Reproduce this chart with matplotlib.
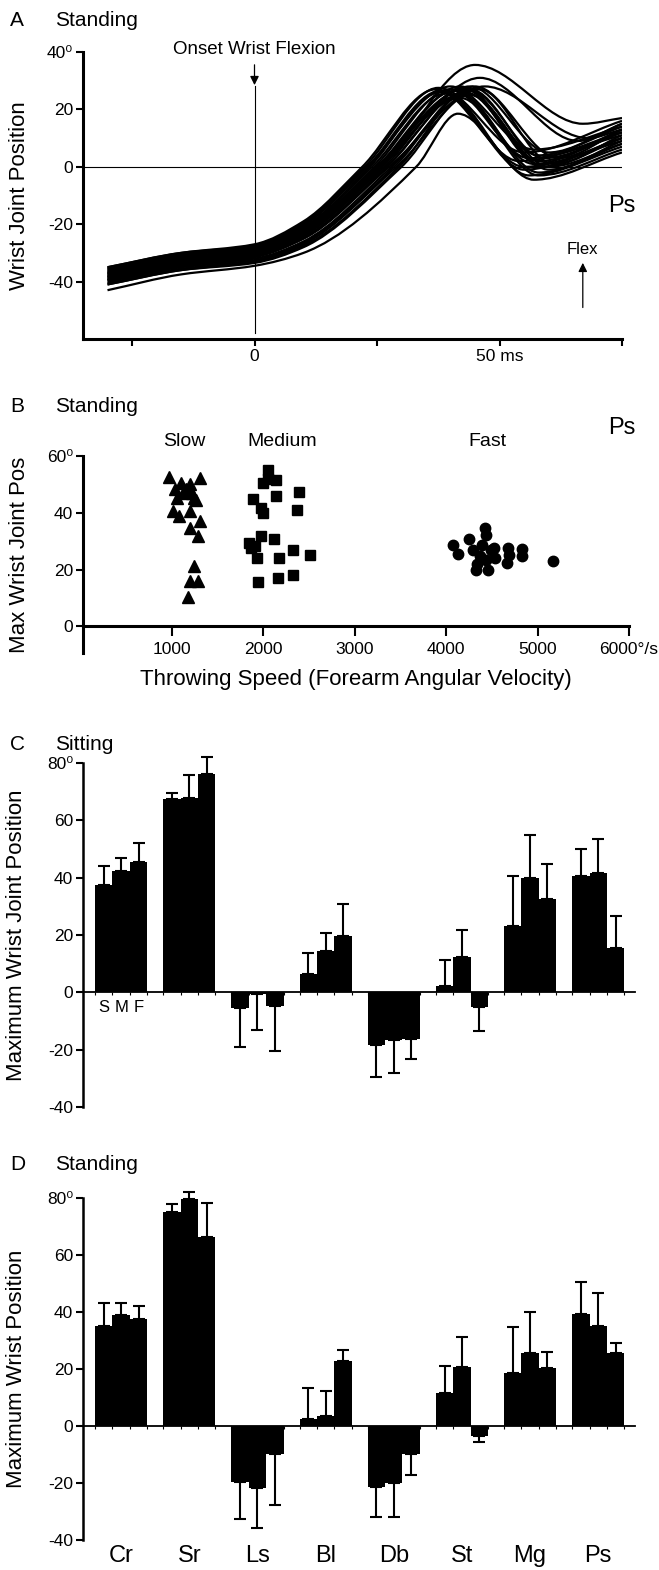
import numpy as np
import matplotlib
matplotlib.use('Agg')
import matplotlib.pyplot as plt
from matplotlib.path import Path
from matplotlib.patches import PathPatch

plt.rcParams['font.family'] = ['Liberation Sans', 'DejaVu Sans']

# ---- panel A : wrist trajectories (key points) ----
y_m30 = [-35, -35.5, -36, -36.5, -37, -37.5, -38, -38.5, -39, -39.5, -36.5, -37.5,
         -38.5, -39.5, -40.5, -41, -43, -35.5, -38, -40, -35, -39, -37, -41]
y_m15 = [-30, -30.5, -31, -31.5, -32, -32.5, -33, -33.5, -34, -34.5, -31.5, -32.5,
         -33.5, -34.5, -35.5, -36, -37.5, -30.5, -33, -35, -30, -34, -32, -36]
y_0 = [-27, -27.5, -28, -28.5, -29, -29.5, -30, -30.5, -31, -31.5, -29, -30,
       -31, -32, -33, -33.5, -34.5, -28, -30, -32.5, -27.5, -31, -29.5, -33]
y_10 = [-19, -20, -21, -21.5, -22, -22.5, -23, -23.5, -24, -25, -22, -23.5,
        -24.5, -26, -27, -28, -30, -20.5, -23, -26.5, -19.5, -25, -23, -27.5]
t_zero = [22, 23, 23.5, 24, 24.5, 25, 25.5, 26, 26.5, 27, 25, 26,
          27, 28, 29, 30, 33, 23, 25.5, 28.5, 22.5, 27.5, 25, 29.5]
t_peak = [37, 38, 38, 39, 40, 41, 42, 42, 43, 43, 44, 45,
          46, 45, 46, 44, 41.5, 40, 42, 44, 37.5, 47, 43, 44]
y_peak = [27, 26.5, 26, 25.5, 27, 26.5, 28, 25, 27.5, 26, 28, 35.5,
          31, 28, 27, 25, 18.5, 28, 24, 26.5, 27.5, 28, 27, 27]
t_dip = [54, 55, 55, 56, 56, 57, 58, 58, 58, 59, 60, 67,
         66, 62, 61, 60, 57, 57, 58, 59, 55, 68, 58, 60]
y_dip = [2, -1, 0, -3, 3, 1, 4, -2, 2, 0, 5, 15,
         9, 3, 1, -1, -4.5, 6, -3, 3, 5, 10, 1, 0]
y_75 = [12, 10, 9, 7, 11, 13, 14, 8, 12, 10, 15, 17,
        15, 13, 11, 9, 5, 14, 6, 12, 16, 13, 10, 8]

# ---- panel B : max wrist position vs throwing speed ----
slow_x = [963, 1309, 1101, 1194, 1032, 1147, 1055, 1240, 1263, 1009, 1078,
          1194, 1309, 1194, 1286, 1240, 1194, 1286, 1170, 1124, 1217]
slow_y = [52.7, 52.4, 50.6, 50, 48.2, 48.2, 45.3, 45.3, 44.5, 40.6, 38.8,
          40.6, 37.1, 34.7, 31.8, 21.4, 15.9, 15.9, 10.4, 47, 47]
med_x = [2046, 2046, 2138, 2000, 2138, 2392, 1885, 1977, 2000, 2364, 1977,
         2115, 1839, 1908, 1931, 2175, 2323, 2507, 1945, 2161, 2323, 1862]
med_y = [55, 51.8, 51.5, 50.6, 45.9, 47.4, 44.7, 41.8, 40, 40.9, 31.8,
         30.8, 29.4, 28.2, 24.1, 24.1, 26.8, 25, 15.5, 17, 18.2, 27.6]
fast_x = [4074, 4134, 4249, 4295, 4364, 4419, 4433, 4396, 4327, 4456, 4488,
          4534, 4525, 4673, 4687, 4664, 4834, 4834, 5171, 4341, 4433]
fast_y = [28.6, 25.6, 30.6, 27, 24.7, 34.7, 32.1, 28.8, 19.8, 20, 27,
          24.1, 27.6, 27.6, 25.3, 22.4, 27.3, 24.7, 22.9, 22, 23.5]

# ---- panels C and D : mean max wrist position per muscle (S, M, F) ----
muscles = ['Cr', 'Sr', 'Ls', 'Bl', 'Db', 'St', 'Mg', 'Ps']
sit_mean = [[37.5, 42.3, 45.6], [67.4, 67.9, 76.0], [-5.5, -0.5, -4.9], [6.4, 14.3, 19.6],
            [-18.3, -16.7, -16.3], [2.3, 12.2, -5.2], [23.0, 39.9, 32.4], [40.5, 41.7, 15.4]]
sit_sd = [[6.5, 4.7, 6.6], [2.3, 7.9, 6.0], [13.4, 12.6, 15.5], [7.2, 6.5, 11.1],
          [11.1, 11.6, 6.8], [9.0, 9.4, 8.4], [17.6, 14.9, 12.5], [9.6, 11.9, 11.4]]
std_mean = [[35.2, 38.9, 37.4], [75.2, 79.6, 66.2], [-19.5, -21.6, -9.9], [2.3, 3.6, 22.9],
            [-21.3, -19.9, -9.9], [11.5, 20.6, -3.4], [18.7, 25.5, 20.2], [39.4, 35.1, 25.5]]
std_sd = [[8.1, 4.4, 4.8], [2.6, 2.4, 12.2], [13.1, 14.1, 17.9], [10.9, 8.7, 3.9],
          [10.7, 12.1, 7.3], [9.7, 10.7, 2.1], [15.9, 14.6, 5.6], [11.0, 11.4, 3.7]]


def smooth_path(ts, ys):
    # monotone cubic through the key points, drawn as bezier segments
    ts = np.asarray(ts, float)
    ys = np.asarray(ys, float)
    h = np.diff(ts)
    d = np.diff(ys) / h
    m = np.zeros_like(ys)
    for k in range(1, len(ys) - 1):
        if d[k-1] * d[k] > 0:
            w1 = 2*h[k] + h[k-1]
            w2 = h[k] + 2*h[k-1]
            m[k] = (w1 + w2) / (w1/d[k-1] + w2/d[k])
    m[0] = d[0]
    m[-1] = d[-1]
    verts = [(ts[0], ys[0])]
    codes = [Path.MOVETO]
    for k in range(len(h)):
        verts += [(ts[k] + h[k]/3, ys[k] + m[k]*h[k]/3),
                  (ts[k+1] - h[k]/3, ys[k+1] - m[k+1]*h[k]/3),
                  (ts[k+1], ys[k+1])]
        codes += [Path.CURVE4]*3
    return Path(verts, codes)


def box(l, t, r, b):
    return [l/659, 1 - b/1570, (r - l)/659, (b - t)/1570]


fig = plt.figure(figsize=(6.59, 15.70), dpi=100)

TICK = 12.5
LAB = 16

# panel titles
for y, letter, title in [(20, 'A', 'Standing'), (407, 'B', 'Standing'),
                         (745, 'C', 'Sitting'), (1165, 'D', 'Standing')]:
    fig.text(10/659, 1 - y/1570, letter, fontsize=15, va='center')
    fig.text(55/659, 1 - y/1570, title, fontsize=15, va='center')

# ================= A =================
axA = fig.add_axes(box(83, 52, 622, 339))
for i in range(len(y_m30)):
    tk = [-30, -15, 0, 10, t_zero[i], t_peak[i], t_dip[i], 75]
    yk = [y_m30[i], y_m15[i], y_0[i], y_10[i], 0, y_peak[i], y_dip[i], y_75[i]]
    axA.add_patch(PathPatch(smooth_path(tk, yk), fill=False, ec='black', lw=1.6))
axA.axhline(0, color='black', lw=0.8)
axA.plot([0, 0], [-58, 28], color='black', lw=0.8)
axA.annotate('', xy=(0, 27.5), xytext=(0, 36.5),
             arrowprops=dict(arrowstyle='-|>', color='black', lw=0.9, mutation_scale=13))
axA.text(0, 41, 'Onset Wrist Flexion', ha='center', va='center', fontsize=13.5)
axA.text(75, -13.5, 'Ps', ha='center', va='center', fontsize=17)
axA.text(67, -28.8, 'Flex', ha='center', va='center', fontsize=12)
axA.annotate('', xy=(67, -32.5), xytext=(67, -50),
             arrowprops=dict(arrowstyle='-|>', color='black', lw=0.9, mutation_scale=13))
axA.set_xlim(-35, 75)
axA.set_ylim(-60, 40)
axA.set_xticks([-25, 0, 25, 50, 75])
axA.set_xticklabels(['', '0', '', '50 ms', ''])
axA.set_yticks([-40, -20, 0, 20, 40])
axA.set_yticklabels(['-40', '-20', '0', '20', '40\u2070'])
axA.set_ylabel('Wrist Joint Position', fontsize=LAB, va='center')
axA.yaxis.set_label_coords(-0.118, 0.5)

# ================= B =================
axB = fig.add_axes(box(83, 456, 629, 653))
axB.plot(slow_x, slow_y, '^', color='black', ms=9, ls='none')
axB.plot(med_x, med_y, 's', color='black', ms=7.5, ls='none')
axB.plot(fast_x, fast_y, 'o', color='black', ms=7.5, ls='none')
axB.text(1132, 65, 'Slow', ha='center', va='center', fontsize=14)
axB.text(2207, 65, 'Medium', ha='center', va='center', fontsize=14)
axB.text(4454, 65, 'Fast', ha='center', va='center', fontsize=14)
axB.text(5925, 70, 'Ps', ha='center', va='center', fontsize=17)
axB.set_xlim(25, 6000)
axB.set_ylim(-9.4, 60)
axB.spines['bottom'].set_position(('data', 0))
axB.set_xticks([1000, 2000, 3000, 4000, 5000, 6000])
axB.set_xticklabels(['1000', '2000', '3000', '4000', '5000', '6000\u00b0/s'])
axB.set_yticks([0, 20, 40, 60])
axB.set_yticklabels(['0', '20', '40', '60\u2070'])
axB.set_xlabel('Throwing Speed (Forearm Angular Velocity)', fontsize=LAB, labelpad=9)
axB.set_ylabel('Max Wrist Joint Pos', fontsize=LAB, va='center')
axB.yaxis.set_label_coords(-0.117, 0.5)

# ================= C / D =================
W = 0.255
offs = [-W, 0, W]


def bar_panel(ax, means, sds, ylabel):
    means = np.array(means)
    sds = np.array(sds)
    g = np.arange(len(muscles))
    for j in range(3):
        m = means[:, j]
        s = sds[:, j]
        lo = np.where(m < 0, s, 0)
        hi = np.where(m >= 0, s, 0)
        ax.bar(g + offs[j], m, width=W, color='black', edgecolor='none',
               yerr=[lo, hi], error_kw=dict(ecolor='black', elinewidth=1.5,
                                            capsize=4, capthick=1.5))
    for art in ax.get_children():
        art.set_clip_on(False)
    edges = np.concatenate([g + e for e in (-1.5*W, -0.5*W, 0.5*W, 1.5*W)])
    ax.set_xticks([])
    ax.set_xticks(edges, minor=True)
    ax.tick_params(axis='x', which='minor', length=2.5, width=0.8, direction='out')
    ax.set_xlim(-0.56, 7.54)
    ax.set_ylim(-40, 80)
    ax.spines['bottom'].set_position(('data', 0))
    ax.spines['bottom'].set_linewidth(1.3)
    ax.spines['left'].set_linewidth(1.8)
    ax.set_yticks([-40, -20, 0, 20, 40, 60, 80])
    ax.set_yticklabels(['-40', '-20', '0', '20', '40', '60', '80\u2070'])
    ax.set_ylabel(ylabel, fontsize=LAB, va='center')
    ax.yaxis.set_label_coords(-0.12, 0.5)


axC = fig.add_axes(box(83, 763, 635, 1107))
bar_panel(axC, sit_mean, sit_sd, 'Maximum Wrist Joint Position')
for j, s in enumerate(['S', 'M', 'F']):
    axC.text(offs[j], -5.2, s, ha='center', va='center', fontsize=12)

axD = fig.add_axes(box(83, 1198, 635, 1540))
bar_panel(axD, std_mean, std_sd, 'Maximum Wrist Position')
for i, name in enumerate(muscles):
    axD.text(i, -41.8, name, ha='center', va='top', fontsize=17, clip_on=False)

for ax in (axA, axB, axC, axD):
    ax.spines['top'].set_visible(False)
    ax.spines['right'].set_visible(False)
    ax.tick_params(axis='both', which='major', direction='out', length=5,
                   width=1.5, labelsize=TICK, pad=2)
for ax in (axA, axB):
    ax.spines['left'].set_linewidth(2.2)
    ax.spines['bottom'].set_linewidth(2.2)
axB.tick_params(axis='x', length=7, pad=4)

fig.savefig('out.png', dpi=100)
